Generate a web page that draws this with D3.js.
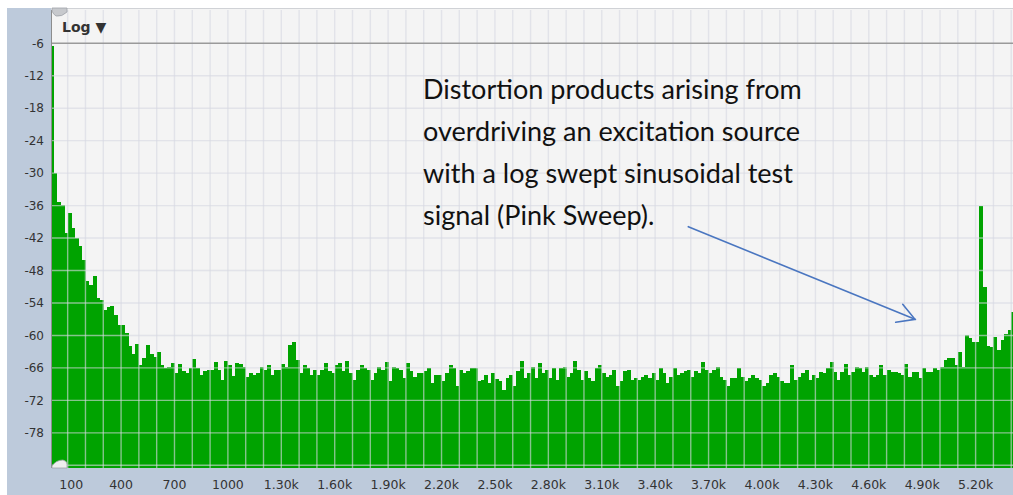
<!DOCTYPE html>
<html>
<head>
<meta charset="utf-8">
<script src="https://cdn.jsdelivr.net/npm/d3@7"></script>
<style>
  html, body { margin: 0; padding: 0; background: #ffffff; }
  svg { display: block; }
</style>
</head>
<body>
<svg id="chart" width="1013" height="495"></svg>
<script>
// Spectrum magnitude (dB) per 20 Hz bin, bin i spans [20*i, 20*i + 20) Hz
const binWidthHz = 20;
const levelsDb = [
  -6.5, -30, -35.3, -35.9, -41.1, -37.4, -40.2, -42, -43.5, -46,
  -50, -50.7, -49, -53, -53.5, -55.3, -54.8, -54.6, -56.2, -58,
  -58, -59.5, -62, -63.5, -61.5, -65.5, -64.2, -61.8, -63.5, -64,
  -63, -65.5, -66, -65.8, -65.1, -67, -65.2, -66.6, -67, -66.1,
  -64.3, -66.1, -67.3, -66.6, -66.4, -66.3, -65, -66.4, -68.2, -64.8,
  -65.4, -67.5, -65.1, -65.2, -65.8, -67.6, -66.9, -67.3, -66.9, -65.8,
  -66.3, -65.5, -67.3, -66.3, -66.3, -65.2, -65.8, -61.7, -61.2, -64.5,
  -67, -65.4, -66.1, -67.3, -66.3, -67.3, -66.4, -65.1, -66.6, -67,
  -65.5, -65.1, -66.6, -64.8, -67, -68.2, -66.4, -65.5, -66.1, -66.4,
  -68.2, -67, -65.8, -66.4, -65, -68.5, -65.9, -66.1, -66.4, -67.9,
  -65.1, -66.6, -67.6, -67, -67, -66.6, -66.1, -68.8, -67.3, -67.3,
  -68.5, -67, -65.4, -66.1, -69.4, -66.4, -67, -66.5, -66.1, -66.1,
  -68.4, -68.2, -67.3, -68.7, -67, -68, -68.5, -70, -67.9, -67.3,
  -69.4, -66.6, -64.8, -67.9, -67, -65.8, -67.9, -65.1, -67, -66.4,
  -67.9, -66.1, -68.2, -66.1, -65.8, -67.6, -67, -64.8, -66.4, -68.2,
  -66.6, -67.9, -68.5, -66.1, -65.5, -67, -67.6, -67.3, -66.3, -69.4,
  -68.5, -66.6, -66.4, -68.2, -67.9, -68.2, -67.6, -67.3, -67.9, -67,
  -68.2, -66.1, -67, -68.8, -67.6, -66.1, -67.3, -67, -66.6, -66.4,
  -67.6, -66.6, -67, -64.9, -66.4, -67, -66.4, -65.8, -67.6, -68.2,
  -69.4, -67.9, -67.9, -66.1, -67.6, -68.5, -67.9, -67.3, -67.9, -68.2,
  -69.4, -68.8, -67.3, -67, -67.6, -68.5, -68.7, -68.8, -65.5, -68.2,
  -67.6, -67, -66.4, -68.2, -67.3, -67.9, -66.7, -67, -66.1, -64.9,
  -66.7, -68.2, -66.7, -65.2, -67.3, -66.7, -65.8, -66.1, -66.7, -65.8,
  -67.3, -67.6, -67.3, -65.5, -67.3, -66.4, -66.7, -66.7, -67, -67.3,
  -65.2, -67.6, -66.7, -66.7, -67.9, -66.1, -66.7, -66.7, -66.1, -66.4,
  -65.8, -64.5, -64.2, -64.2, -65.5, -63, -65.8, -59.9, -60.5, -61.2,
  -61.2, -36, -51, -62, -62.1, -60.2, -62.7, -60.8, -59.8, -59,
  -55.6
];

// Axis ticks
const freqTicks = [100, 400, 700, 1000, 1300, 1600, 1900, 2200, 2500, 2800, 3100, 3400, 3700, 4000, 4300, 4600, 4900, 5200];
const freqTickLabels = ["100", "400", "700", "1000", "1.30k", "1.60k", "1.90k", "2.20k", "2.50k", "2.80k", "3.10k", "3.40k", "3.70k", "4.00k", "4.30k", "4.60k", "4.90k", "5.20k"];
const dbTicks = [-6, -12, -18, -24, -30, -36, -42, -48, -54, -60, -66, -72, -78];

const noteLines = [
  "Distortion products arising from",
  "overdriving an excitation source",
  "with a log swept sinusoidal test",
  "signal (Pink Sweep)."
];

const W = 1013, H = 495;
const plot = { left: 52, right: 1013, top: 10, bottom: 468 };

const svg = d3.select("#chart");

const x = d3.scaleLinear().domain([12, 5410]).range([plot.left, plot.right]);
const y = d3.scaleLinear().domain([0, -84.5]).range([10.8, plot.bottom]);

// Frame panels
svg.append("rect").attr("x", 7).attr("y", 8).attr("width", plot.left - 7).attr("height", H - 8).attr("fill", "#bdcadb");
svg.append("rect").attr("x", 7).attr("y", plot.bottom).attr("width", W - 7).attr("height", H - plot.bottom).attr("fill", "#bdcadb");
svg.append("rect").attr("x", plot.left - 1).attr("y", 8).attr("width", plot.right - plot.left + 1).attr("height", plot.bottom - 8).attr("fill", "#f4f4f4");
svg.append("line").attr("x1", plot.left).attr("x2", plot.right).attr("y1", 8.5).attr("y2", 8.5).attr("stroke", "#d0d2d6").attr("stroke-width", 1);

const clipId = "plot-clip";
svg.append("clipPath").attr("id", clipId)
  .append("rect").attr("x", plot.left).attr("y", plot.top).attr("width", plot.right - plot.left).attr("height", plot.bottom - plot.top);

// Spectrum bars
const bins = levelsDb.map((v, i) => ({ f0: i * binWidthHz, f1: (i + 1) * binWidthHz, v }));
svg.append("g").attr("clip-path", `url(#${clipId})`)
  .selectAll("rect").data(bins).join("rect")
  .attr("x", d => x(d.f0))
  .attr("width", d => x(d.f1) - x(d.f0) + 0.4)
  .attr("y", d => y(d.v))
  .attr("height", d => plot.bottom - y(d.v))
  .attr("fill", "#00a300")
  .attr("shape-rendering", "crispEdges");

// Grid drawn over the spectrum
const grid = svg.append("g").attr("clip-path", `url(#${clipId})`);
const vGrid = d3.range(100, 5401, 100);
grid.selectAll("line.v").data(vGrid).join("line").attr("class", "v")
  .attr("x1", d => x(d)).attr("x2", d => x(d))
  .attr("y1", plot.top).attr("y2", plot.bottom)
  .attr("stroke", "#d6d9e2").attr("stroke-opacity", 0.62).attr("stroke-width", 1.4);
grid.selectAll("line.h").data(dbTicks.concat([-84])).join("line").attr("class", "h")
  .attr("x1", plot.left).attr("x2", plot.right)
  .attr("y1", d => y(d)).attr("y2", d => y(d))
  .attr("stroke", d => d === -6 ? "#9a9a9a" : "#d6d9e2")
  .attr("stroke-opacity", d => d === -6 ? 1 : 0.62)
  .attr("stroke-width", d => d === -6 ? 1.6 : 1.4);

// Left axis line
svg.append("line").attr("x1", plot.left - 0.5).attr("x2", plot.left - 0.5)
  .attr("y1", plot.top).attr("y2", plot.bottom).attr("stroke", "#8d8d8d").attr("stroke-width", 1);

// Y axis labels
svg.append("g").selectAll("text").data(dbTicks).join("text")
  .attr("x", 44).attr("y", d => y(d) + 0.8)
  .attr("text-anchor", "end").attr("dominant-baseline", "middle")
  .attr("font-family", "DejaVu Sans, sans-serif").attr("font-size", 12)
  .attr("fill", "#333").text(d => d);

// X axis labels
svg.append("g").selectAll("text").data(freqTicks).join("text")
  .attr("x", (d, i) => x(d) + (i === 0 ? 3.5 : 0)).attr("y", 485.5)
  .attr("text-anchor", "middle").attr("dominant-baseline", "middle")
  .attr("font-family", "DejaVu Sans, sans-serif").attr("font-size", 12.5)
  .attr("fill", "#333").text((d, i) => freqTickLabels[i]);

// Scale mode selector
svg.append("text").attr("x", 62).attr("y", 32)
  .attr("font-family", "DejaVu Sans, sans-serif").attr("font-size", 14).attr("font-weight", "bold")
  .attr("fill", "#333").text("Log ▼");

// Range handles at the corners
svg.append("path").attr("d", "M52,8 L67,8 L67,12 Q62,17 56,16 Q53,14 52,11 Z").attr("fill", "#c7c9cd").attr("stroke", "#9ea2a8").attr("stroke-width", 0.8);
svg.append("path").attr("d", "M52,468 L52,466 Q56,460 63,460 Q67,461 67,464 L67,468 Z").attr("fill", "#eeeeee").attr("stroke", "#9ea2a8").attr("stroke-width", 0.8);

// Annotation
const note = svg.append("g");
const lineYs = [92, 134, 176, 218];
const noteText = note.selectAll("text").data(noteLines).join("text")
  .attr("x", 423).attr("y", (d, i) => lineYs[i])
  .attr("dominant-baseline", "middle")
  .attr("font-family", "Lato, 'Open Sans', sans-serif").attr("font-size", 20)
  .attr("fill", "#111").text(d => d);
const w0 = noteText.nodes()[0].getComputedTextLength();
noteText.attr("font-size", 20 * 379 / w0);

// Arrow pointing at the distortion products
const arrow = svg.append("g").attr("stroke", "#4a76c0").attr("stroke-width", 1.6).attr("fill", "none").attr("stroke-linecap", "round");
arrow.append("line").attr("x1", 688.3).attr("y1", 226.7).attr("x2", 915).attr("y2", 319.3);
arrow.append("polyline").attr("points", "902.7,304.3 915,319.3 895.7,322.3");
</script>
</body>
</html>
